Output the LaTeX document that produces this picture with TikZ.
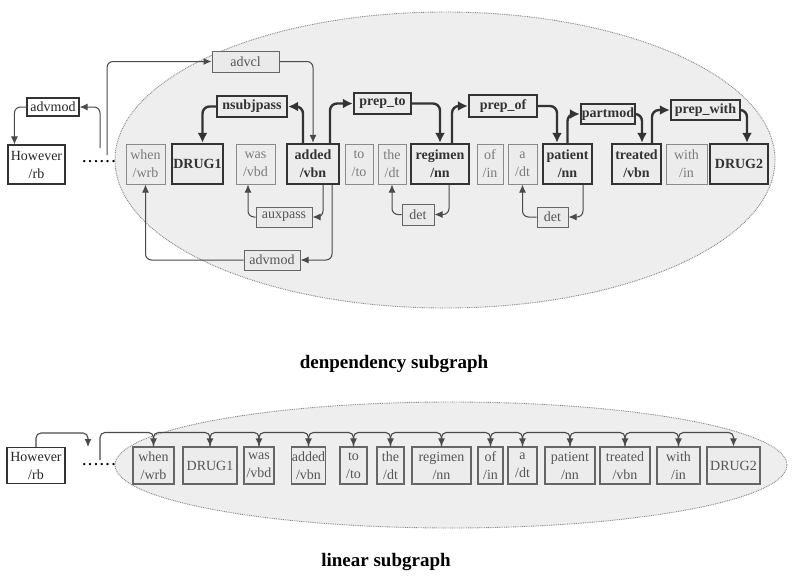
\documentclass[tikz,border=0pt]{standalone}
\usepackage{fontspec}
\setmainfont{Liberation Serif}
\usetikzlibrary{arrows.meta,calc}
\definecolor{ellfill}{HTML}{EEEEEE}
\definecolor{ellline}{HTML}{888888}
\definecolor{boxfill}{HTML}{ECECEC}
\definecolor{lightline}{HTML}{8A8A8A}
\definecolor{lighttext}{HTML}{7A7A7A}
\definecolor{midline}{HTML}{666666}
\definecolor{midtext}{HTML}{555555}
\definecolor{darkline}{HTML}{333333}
\definecolor{arrowc}{HTML}{4A4A4A}
\begin{document}
\begin{tikzpicture}[x=1pt,y=-1pt,
  sz/.style 2 args={minimum width=#1,minimum height=#2},
  base/.style={draw,rectangle,inner sep=0pt,align=center,font=\fontsize{14}{18}\selectfont},
  gnode/.style={base,draw=lightline,line width=1pt,fill=boxfill,text=lighttext},
  mnode/.style={base,draw=midline,line width=1pt,fill=boxfill!85!gray!60,text=midtext},
  bnode/.style={base,draw=darkline,line width=2.4pt,fill=boxfill,text=darkline,font=\fontsize{14}{18}\selectfont\bfseries},
  wnode/.style={base,draw=darkline,line width=1.1pt,fill=white,text=black!85},
  lnode/.style={base,draw=midline,line width=1.1pt,fill=boxfill,text=midtext},
  ell/.style={fill=ellfill,draw=ellline,line width=0.9pt,dash pattern=on 0.9pt off 0.9pt},
  tarr/.style={draw=arrowc,line width=1pt,rounded corners=6,-{Latex[length=8pt,width=7pt]}},
  barr/.style={draw=darkline,line width=2.4pt,rounded corners=7,-{Latex[length=10pt,width=10pt]}},
  larr/.style={draw=arrowc,line width=1.1pt,rounded corners=5,-{Latex[length=8pt,width=7pt]}},
  dots/.style={font=\fontsize{14}{17}\selectfont\bfseries,inner sep=0pt},
  title/.style={font=\fontsize{19}{21}\selectfont\bfseries,text=black}
]
\fill[white] (0,0) rectangle (795,576);
\useasboundingbox (0,0) rectangle (795,576);

% ---------------- dependency subgraph ----------------
\draw[ell] (445,160) ellipse [x radius=330pt, y radius=148pt];

\node[wnode, sz={57}{39}] (d-however) at (36.5,164.5) {However\\/rb};
\node[dots] (d-dots) at (99,162) {.\,.\,.\,.\,.\,.};
\node[gnode, sz={39}{40}] (d-when) at (145.5,164) {when\\/wrb};
\node[bnode, sz={51}{40}] (d-drug1) at (197.5,164) {DRUG1};
\node[gnode, sz={39}{40}] (d-was) at (255.5,164) {was\\/vbd};
\node[bnode, sz={52}{40}] (d-added) at (313,164) {added\\/vbn};
\node[gnode, sz={28}{40}] (d-to) at (359,164) {to\\/to};
\node[gnode, sz={28}{40}] (d-the) at (392,164) {the\\/dt};
\node[bnode, sz={58}{40}] (d-regimen) at (440,164) {regimen\\/nn};
\node[gnode, sz={26}{40}] (d-of) at (490,164) {of\\/in};
\node[gnode, sz={29}{40}] (d-a) at (522.5,164) {a\\/dt};
\node[bnode, sz={49}{40}] (d-patient) at (567.5,164) {patient\\/nn};
\node[bnode, sz={49}{40}] (d-treated) at (636.5,164) {treated\\/vbn};
\node[gnode, sz={41}{40}] (d-with) at (686.5,164) {with\\/in};
\node[bnode, sz={58}{40}] (d-drug2) at (739,164) {DRUG2};

\node[wnode, sz={52}{18}] (advmodL) at (53,107) {advmod};
\node[mnode, sz={67}{21}] (advcl) at (245.5,61.5) {advcl};
\node[bnode, sz={70}{21}] (nsubjpass) at (252,106.5) {nsubjpass};
\node[mnode, sz={56}{20}] (auxpass) at (284,217) {auxpass};
\node[mnode, sz={56}{20}] (advmodB) at (272,260) {advmod};
\node[bnode, sz={57}{21}] (prepto) at (382.5,103.5) {prep\_to};
\node[mnode, sz={32}{21}] (det1) at (418,214.5) {det};
\node[bnode, sz={68}{22}] (prepof) at (503,106) {prep\_of};
\node[mnode, sz={31}{20}] (det2) at (552.5,217) {det};
\node[bnode, sz={54}{20}] (partmod) at (608,114) {partmod};
\node[bnode, sz={69}{20}] (prepwith) at (705.5,110) {prep\_with};

\coordinate (d-outA) at (107,155);
\coordinate (d-outB) at (100,148);

\draw[tarr] (d-outA) |- (advcl.west);
\draw[tarr] (advcl.east) -| (d-added.north);
\draw[tarr] (d-outB) |- (advmodL.east);
\draw[tarr] (advmodL.west) -| ($(d-however.north west)+(7,0)$);
\draw[barr] ($(d-added.north)+(-10,0)$) |- (nsubjpass.east);
\draw[barr] (nsubjpass.west) -| ($(d-drug1.north)+(5,0)$);
\draw[tarr] ($(d-added.south)+(10,0)$) |- (auxpass.east);
\draw[tarr] (auxpass.west) -| ($(d-was.south)+(-7.5,0)$);
\draw[tarr] ($(d-added.south)+(19,0)$) |- (advmodB.east);
\draw[tarr] (advmodB.west) -| (d-when.south);
\draw[barr] ($(d-added.north)+(17,0)$) |- (prepto.west);
\draw[barr] (prepto.east) -| (d-regimen.north);
\draw[tarr] ($(d-regimen.south)+(9,0)$) |- (det1.east);
\draw[tarr] (det1.west) -| (d-the.south);
\draw[barr] ($(d-regimen.north)+(12,0)$) |- (prepof.west);
\draw[barr] (prepof.east) -| ($(d-patient.north)+(-10.5,0)$);
\draw[tarr] ($(d-patient.south)+(15.5,0)$) |- (det2.east);
\draw[tarr] (det2.west) -| (d-a.south);
\draw[barr] (d-patient.north) |- (partmod.west);
\draw[barr] (partmod.east) -| ($(d-treated.north)+(5.5,0)$);
\draw[barr] ($(d-treated.north)+(15.5,0)$) |- (prepwith.west);
\draw[barr] (prepwith.east) -| ($(d-drug2.north)+(8,0)$);

\node[title] (t1) at (394,364) {denpendency subgraph};

% ---------------- linear subgraph ----------------
\draw[ell] (451,465) ellipse [x radius=336pt, y radius=63pt];

\node[wnode, sz={58}{36}] (l-however) at (36,465.5) {However\\/rb};
\node[dots] (l-dots) at (99,465) {.\,.\,.\,.\,.\,.};
\node[lnode, sz={41}{37}] (l-when) at (153.5,465.5) {when\\/wrb};
\node[lnode, sz={54}{37}] (l-drug1) at (210,465.5) {DRUG1};
\node[lnode, sz={30}{37}] (l-was) at (259,465.5) {was\\/vbd};
\node[lnode, sz={33}{37}] (l-added) at (308.5,465.5) {added\\/vbn};
\node[lnode, sz={27}{37}] (l-to) at (353.5,465.5) {to\\/to};
\node[lnode, sz={27}{37}] (l-the) at (390.5,465.5) {the\\/dt};
\node[lnode, sz={59}{37}] (l-regimen) at (441.5,465.5) {regimen\\/nn};
\node[lnode, sz={25}{37}] (l-of) at (490.5,465.5) {of\\/in};
\node[lnode, sz={29}{37}] (l-a) at (522.5,465.5) {a\\/dt};
\node[lnode, sz={50}{37}] (l-patient) at (570,465.5) {patient\\/nn};
\node[lnode, sz={50}{37}] (l-treated) at (625,465.5) {treated\\/vbn};
\node[lnode, sz={43}{37}] (l-with) at (678.5,465.5) {with\\/in};
\node[lnode, sz={53}{37}] (l-drug2) at (733.5,465.5) {DRUG2};

\coordinate (l-in) at (88,447);
\coordinate (l-out) at (100,460);

\draw[larr] (l-however.north) |- ($(l-in)+(0,-14)$) -- (l-in);
\draw[larr] (l-out) |- ($(l-when.north)+(0,-14)$) -- (l-when.north);
\foreach \p/\q in {when/drug1,drug1/was,was/added,added/to,to/the,the/regimen,regimen/of,of/a,a/patient,patient/treated,treated/with,with/drug2}{
  \draw[larr] (l-\p.north) |- ($(l-\q.north)+(0,-14)$) -- (l-\q.north);
}

\node[title] (t2) at (386,562) {linear subgraph};
\end{tikzpicture}
\end{document}
